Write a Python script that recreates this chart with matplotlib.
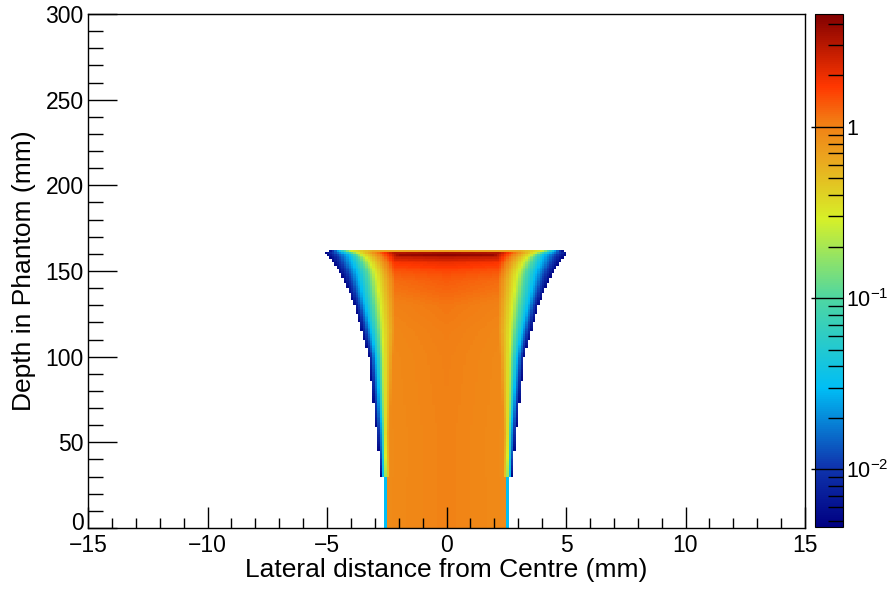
import numpy as np
import matplotlib
matplotlib.use("Agg")
import matplotlib.pyplot as plt
from matplotlib.colors import LogNorm, LinearSegmentedColormap
from matplotlib.ticker import FixedLocator, NullFormatter
from matplotlib.transforms import ScaledTranslation

plt.rcParams['font.family'] = ['Liberation Sans', 'DejaVu Sans']
plt.rcParams['mathtext.fontset'] = 'custom'
plt.rcParams['mathtext.rm'] = 'Liberation Sans'
plt.rcParams['mathtext.it'] = 'Liberation Sans:italic'
plt.rcParams['mathtext.bf'] = 'Liberation Sans:bold'

# ---- data ----
# depth nodes (mm) of the dose map, and per-depth lateral profile landmarks (half-widths, mm)
depth_nodes = [0.5, 29.5, 30.5, 55, 100, 115, 130, 145, 150, 155, 158.5, 159.5, 160.5, 161.5]
central_dose = [1.0, 1.0, 1.0, 1.0, 1.02, 1.05, 1.12, 1.35, 1.55, 2.0, 3.2, 4.2, 3.5, 0.7]
shoulder_hw = [2.46, 2.46, 2.35, 2.40, 2.25, 2.15, 2.15, 2.15, 2.20, 2.20, 2.10, 2.00, 2.2, 3.0]
level03_hw = [2.50, 2.50, 2.52, 2.58, 2.62, 2.66, 2.75, 2.90, 2.99, 3.20, 3.40, 3.50, 3.7, 4.0]
level003_hw = [2.55, 2.55, 2.65, 2.70, 2.95, 3.15, 3.40, 3.65, 3.76, 3.95, 4.05, 4.10, 4.3, 4.5]
edge_hw = [2.56, 2.56, 2.75, 2.92, 3.25, 3.55, 3.85, 4.30, 4.50, 4.75, 4.90, 4.98, 5.05, 4.9]
edge_value = 0.005

x_edges = np.linspace(-15, 15, 301)
y_edges = np.linspace(0, 300, 301)
z_min, z_max = 0.0046, 4.57

# ---- build the histogram from the profile landmarks ----
xc = 0.5 * (x_edges[:-1] + x_edges[1:])
yc = 0.5 * (y_edges[:-1] + y_edges[1:])
Z = np.full((len(yc), len(xc)), np.nan)
for i, d in enumerate(yc):
    if d > depth_nodes[-1] + 0.5:
        continue
    c = np.interp(d, depth_nodes, central_dose)
    pts = [0.0,
           np.interp(d, depth_nodes, shoulder_hw),
           np.interp(d, depth_nodes, level03_hw),
           np.interp(d, depth_nodes, level003_hw),
           np.interp(d, depth_nodes, edge_hw)]
    vals = np.log10([c, 0.9 * c, 0.3, 0.03, edge_value])
    ax_ = np.abs(xc)
    row = 10 ** np.interp(ax_, pts, vals)
    row[ax_ > pts[-1]] = np.nan
    Z[i] = row

# ---- colour palette (ROOT-like rainbow) ----
stops = [0.0, 0.12, 0.27, 0.45, 0.60, 0.72, 0.79, 0.86, 1.0]
cols = [(0, 0, 130), (15, 55, 175), (0, 190, 245), (80, 215, 160), (215, 240, 40),
        (235, 165, 30), (242, 125, 20), (255, 55, 0), (130, 0, 0)]
cmap = LinearSegmentedColormap.from_list(
    "rootrb", [(s, tuple(v / 255 for v in c)) for s, c in zip(stops, cols)])

fig = plt.figure(figsize=(8.91, 5.89), dpi=100)
ax = fig.add_axes([88 / 891, 1 - 528 / 589, (805 - 88) / 891, (528 - 14) / 589])
cax = fig.add_axes([815 / 891, 1 - 527 / 589, (843 - 815) / 891, (527 - 14) / 589])

Zm = np.ma.masked_invalid(Z)
mesh = ax.pcolormesh(x_edges, y_edges, Zm, cmap=cmap,
                     norm=LogNorm(vmin=z_min, vmax=z_max), shading='flat')

ax.set_xlim(-15, 15)
ax.set_ylim(0, 300)
ax.set_xticks(np.arange(-15, 16, 5))
ax.set_xticks(np.arange(-15, 16, 1), minor=True)
ax.set_yticks(np.arange(0, 301, 50))
ax.set_yticks(np.arange(0, 301, 10), minor=True)
ax.set_xticklabels(["\u221215", "\u221210", "\u22125", "0", "5", "10", "15"])
ax.tick_params(axis='x', which='major', direction='in', length=15, width=1,
               labelsize=16.5, pad=4, top=False)
ax.tick_params(axis='x', which='minor', direction='in', length=7.5, width=1, top=False)
ax.tick_params(axis='y', which='major', direction='in', length=21, width=1,
               labelsize=16.5, pad=3, right=False)
ax.tick_params(axis='y', which='minor', direction='in', length=10.5, width=1, right=False)
for s in ax.spines.values():
    s.set_linewidth(1)
ax.set_xlabel("Lateral distance from Centre (mm)", fontsize=19)
ax.xaxis.set_label_coords(0.5, -0.058)
ax.set_ylabel("Depth in Phantom (mm)", fontsize=19)
ax.yaxis.set_label_coords(-0.072, 0.5)

# nudge the "0" y tick label up so it clears the x labels
fig.canvas.draw()
ylabs = ax.get_yticklabels()
ylabs[0].set_transform(ylabs[0].get_transform() + ScaledTranslation(0, 7 / 100, fig.dpi_scale_trans))

cb = fig.colorbar(mesh, cax=cax)
cb.outline.set_linewidth(0.8)
cax.yaxis.set_major_locator(FixedLocator([0.01, 0.1, 1]))
minors = [m * 10.0 ** e for e in (-3, -2, -1, 0) for m in range(2, 10)]
minors = [v for v in minors if z_min <= v <= z_max]
cax.yaxis.set_minor_locator(FixedLocator(minors))
cax.yaxis.set_minor_formatter(NullFormatter())
cax.set_yticklabels([r"$10^{-2}$", r"$10^{-1}$", "1"])
cax.tick_params(which='major', direction='in', length=23, width=1, labelsize=15.5, pad=2.5)
cax.tick_params(which='minor', direction='in', length=11, width=1)

fig.savefig("out.png", dpi=100)
